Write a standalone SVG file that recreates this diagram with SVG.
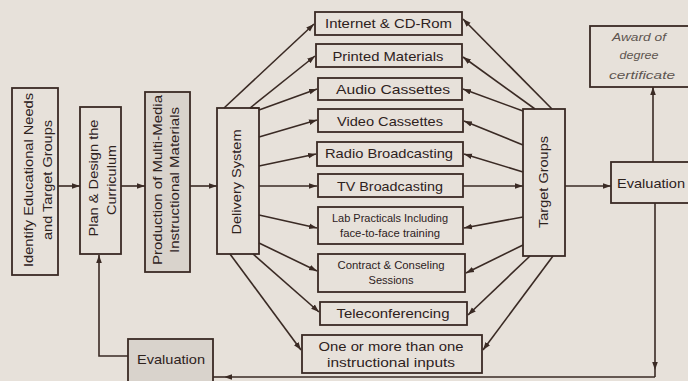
<svg xmlns="http://www.w3.org/2000/svg" width="688" height="381" viewBox="0 0 688 381">
<defs>
<marker id="ah" viewBox="0 0 10 10" refX="10" refY="5" markerWidth="8" markerHeight="8" orient="auto" markerUnits="userSpaceOnUse"><path d="M0,1.5 L10,5 L0,8.5 z" fill="#3a2a24"/></marker>
<style>
.b{fill:none;stroke:#3a2a24;stroke-width:1.8}
.g{fill:#d9d3cc;stroke:#3a2a24;stroke-width:1.8}
.t{font-family:"Liberation Sans",Arial,sans-serif;font-size:13px;fill:#2e221d;text-anchor:middle}
.s{font-size:11px}
.i{font-style:italic;font-size:11px;fill:#5e5550}
.c path{fill:none;stroke:#3a2a24;stroke-width:1.6}
.m{marker-end:url(#ah)}
</style>
</defs>
<rect width="688" height="381" fill="#e7e1da"/>

<g id="identify"><rect class="b" x="12" y="88" width="46" height="187"/>
<text class="t" transform="translate(33,180) rotate(-90)" textLength="174" lengthAdjust="spacingAndGlyphs">Identify Educational Needs</text>
<text class="t" transform="translate(52,180) rotate(-90)" textLength="120" lengthAdjust="spacingAndGlyphs">and Target Groups</text></g>

<g id="plan"><rect class="b" x="80" y="107" width="41" height="147"/>
<text class="t" transform="translate(98,178) rotate(-90)" textLength="117" lengthAdjust="spacingAndGlyphs">Plan &amp; Design the</text>
<text class="t" transform="translate(116,180) rotate(-90)" textLength="70" lengthAdjust="spacingAndGlyphs">Curriculum</text></g>

<g id="production"><rect class="g" x="145" y="92" width="45" height="180"/>
<text class="t" transform="translate(162,180) rotate(-90)" textLength="170" lengthAdjust="spacingAndGlyphs">Production of Multi-Media</text>
<text class="t" transform="translate(179,180) rotate(-90)" textLength="146" lengthAdjust="spacingAndGlyphs">Instructional Materials</text></g>

<g id="delivery"><rect class="b" x="217" y="108" width="42" height="146"/>
<text class="t" transform="translate(241,182) rotate(-90)" textLength="105" lengthAdjust="spacingAndGlyphs">Delivery System</text></g>

<g id="internet"><rect class="b" x="315" y="12" width="147" height="23"/>
<text class="t" x="388.5" y="28" textLength="127" lengthAdjust="spacingAndGlyphs">Internet &amp; CD-Rom</text></g>
<g id="printed"><rect class="b" x="316" y="44" width="146" height="23"/>
<text class="t" x="388" y="61" textLength="111" lengthAdjust="spacingAndGlyphs">Printed Materials</text></g>
<g id="audio"><rect class="b" x="318" y="78" width="144" height="22"/>
<text class="t" x="393" y="94" textLength="114" lengthAdjust="spacingAndGlyphs">Audio Cassettes</text></g>
<g id="video"><rect class="b" x="318" y="109" width="145" height="23"/>
<text class="t" x="390" y="126" textLength="106" lengthAdjust="spacingAndGlyphs">Video Cassettes</text></g>
<g id="radio"><rect class="b" x="317" y="142" width="146" height="24"/>
<text class="t" x="389" y="158" textLength="128" lengthAdjust="spacingAndGlyphs">Radio Broadcasting</text></g>
<g id="tv"><rect class="b" x="318" y="174" width="145" height="23"/>
<text class="t" x="390" y="191" textLength="106" lengthAdjust="spacingAndGlyphs">TV Broadcasting</text></g>
<g id="lab"><rect class="b" x="318" y="207" width="145" height="37"/>
<text class="t s" x="390" y="222" textLength="116" lengthAdjust="spacingAndGlyphs">Lab Practicals Including</text>
<text class="t s" x="390" y="237" textLength="100" lengthAdjust="spacingAndGlyphs">face-to-face training</text></g>
<g id="contract"><rect class="b" x="318" y="254" width="147" height="38"/>
<text class="t s" x="391" y="269" textLength="107" lengthAdjust="spacingAndGlyphs">Contract &amp; Conseling</text>
<text class="t s" x="391" y="284" textLength="45" lengthAdjust="spacingAndGlyphs">Sessions</text></g>
<g id="tele"><rect class="b" x="320" y="302" width="147" height="23"/>
<text class="t" x="393" y="318" textLength="113" lengthAdjust="spacingAndGlyphs">Teleconferencing</text></g>
<g id="onemore"><rect class="b" x="302" y="335" width="180" height="38"/>
<text class="t" x="391" y="351" font-size="14" textLength="145" lengthAdjust="spacingAndGlyphs">One or more than one</text>
<text class="t" x="391" y="367" font-size="14" textLength="128" lengthAdjust="spacingAndGlyphs">instructional inputs</text></g>

<g id="target"><rect class="b" x="523" y="109" width="42" height="147"/>
<text class="t" transform="translate(548,182) rotate(-90)" textLength="92" lengthAdjust="spacingAndGlyphs">Target Groups</text></g>

<g id="award"><rect class="b" x="590" y="26" width="100" height="61"/>
<text class="t i" x="639" y="41" textLength="54" lengthAdjust="spacingAndGlyphs">Award of</text>
<text class="t i" x="639" y="59" textLength="39" lengthAdjust="spacingAndGlyphs">degree</text>
<text class="t i" x="642" y="79" textLength="66" lengthAdjust="spacingAndGlyphs">certificate</text></g>

<g id="evaluation-right"><rect class="b" x="611" y="162" width="80" height="41"/>
<text class="t" x="651" y="188" textLength="68" lengthAdjust="spacingAndGlyphs">Evaluation</text></g>

<g id="evaluation-left"><rect class="g" x="128" y="339" width="85" height="46"/>
<text class="t" x="171" y="364" font-size="14" textLength="68" lengthAdjust="spacingAndGlyphs">Evaluation</text></g>

<g id="connectors" class="c">
<path class="m" d="M58,186 H80"/>
<path class="m" d="M121,186 H145"/>
<path class="m" d="M190,186 H217"/>
<path class="m" d="M224,108 L314,24"/>
<path class="m" d="M250,108 L315,56"/>
<path d="M250,108 H259"/>
<path class="m" d="M259,110 L317,89"/>
<path class="m" d="M259,137 L317,120"/>
<path class="m" d="M259,166 L316,154"/>
<path class="m" d="M259,186 L317,186"/>
<path class="m" d="M259,215 L317,228"/>
<path class="m" d="M259,243 L317,271"/>
<path class="m" d="M253,254 L319,312"/>
<path class="m" d="M230,254 L301,350"/>
<path class="m" d="M552,109 L463,19"/>
<path class="m" d="M535,109 L463,57"/>
<path class="m" d="M523,111 L463,89"/>
<path class="m" d="M523,145 L464,121"/>
<path class="m" d="M523,172 L464,154"/>
<path class="m" d="M463,186 L523,186"/>
<path class="m" d="M523,217 L464,228"/>
<path class="m" d="M523,245 L466,273"/>
<path class="m" d="M530,256 L468,315"/>
<path class="m" d="M553,256 L483,350"/>
<path class="m" d="M565,186 H611"/>
<path class="m" d="M653,162 V87"/>
<path class="m" d="M655,203 V370"/>
<path d="M655,370 V377"/>
<path class="m" d="M655,377 H224"/>
<path d="M224,377 H213"/>
<path class="m" d="M128,356 H99 V255"/>
</g>
</svg>
